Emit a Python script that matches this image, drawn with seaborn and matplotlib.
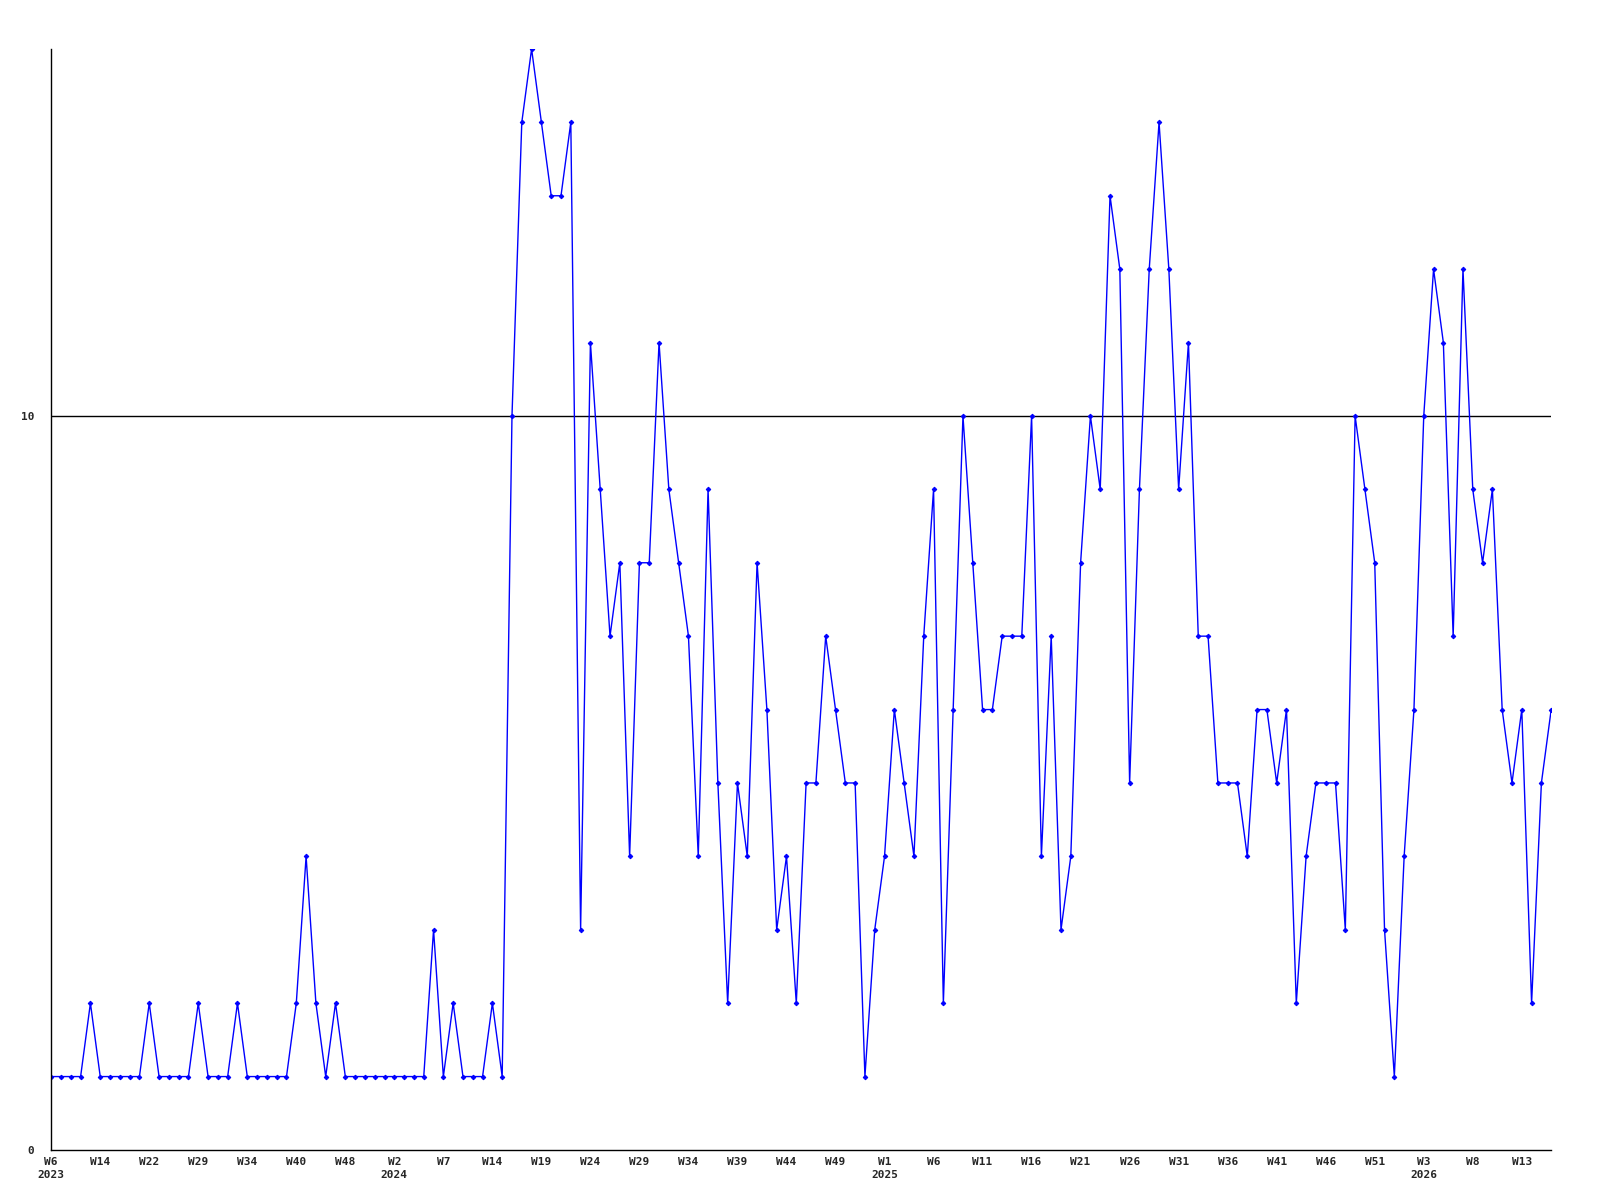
import matplotlib
matplotlib.use("Agg")
import matplotlib.pyplot as plt
import seaborn as sns
import pandas as pd
import numpy as np

# weekly values, one per point
values_2023 = [1, 1, 1, 1, 2, 1, 1, 1, 1, 1,
               2, 1, 1, 1, 1, 2, 1, 1, 1, 2,
               1, 1, 1, 1, 1, 2, 4, 2, 1, 2,
               1, 1, 1, 1, 1]
values_2024 = [1, 1, 1, 1, 3, 1, 2, 1, 1, 1, 2, 1,
               10, 14, 15, 14, 13, 13, 14, 3, 11, 9,
               7, 8, 4, 8, 8, 11, 9, 8, 7, 4,
               9, 5, 2, 5, 4, 8, 6, 3, 4, 2,
               5, 5, 7, 6, 5, 5, 1, 3]
values_2025 = [4, 6, 5, 4, 7, 9, 2, 6, 10, 8,
               6, 6, 7, 7, 7, 10, 4, 7, 3, 4,
               8, 10, 9, 13, 12, 5, 9, 12, 14, 12,
               9, 11, 7, 7, 5, 5, 5, 4, 6, 6,
               5, 6, 2, 4, 5, 5, 5, 3, 10, 9,
               8, 3, 1]
values_2026 = [4, 6, 10, 12, 11, 7, 12, 9, 8, 9, 6, 5, 6, 2, 5, 6]

values = values_2023 + values_2024 + values_2025 + values_2026

# tick labels, one every 5 points
tick_weeks = ["W6", "W14", "W22", "W29", "W34", "W40", "W48", "W2", "W7", "W14",
              "W19", "W24", "W29", "W34", "W39", "W44", "W49", "W1", "W6", "W11",
              "W16", "W21", "W26", "W31", "W36", "W41", "W46", "W51", "W3", "W8", "W13"]
tick_years = {0: "2023", 7: "2024", 17: "2025", 28: "2026"}
reference_level = 10

df = pd.DataFrame({"idx": np.arange(len(values)), "value": values})

sns.set_theme(style="white")
plt.rcParams["font.family"] = ["DejaVu Sans Mono"]

fig = plt.figure(figsize=(16, 12), dpi=100)
ax = fig.add_axes([0.032, 0.0417, 0.9375, 0.9175])

sns.lineplot(data=df, x="idx", y="value", ax=ax, color="#0000FF", linewidth=1.0,
             marker="D", markersize=2.3, markeredgecolor="#0000FF", markerfacecolor="#0000FF")

ax.axhline(reference_level, color="black", linewidth=1.0, zorder=1)

ax.set_xlim(0, len(values) - 1)
ax.set_ylim(0, 15)

ticks = [i * 5 for i in range(len(tick_weeks))]
labels = []
for k, w in enumerate(tick_weeks):
    if k in tick_years:
        labels.append(w + "\n" + tick_years[k])
    else:
        labels.append(w)
ax.set_xticks(ticks)
ax.set_xticklabels(labels, fontsize=8, fontweight="bold", linespacing=1.35)
ax.set_yticks([0, 10])
ax.set_yticklabels(["0", "10"], fontsize=8, fontweight="bold")
ax.tick_params(axis="x", length=0, pad=5)
ax.tick_params(axis="y", length=0, pad=12)

ax.set_xlabel("")
ax.set_ylabel("")
for s in ["top", "right"]:
    ax.spines[s].set_visible(False)
for s in ["left", "bottom"]:
    ax.spines[s].set_color("black")
    ax.spines[s].set_linewidth(1.0)
ax.grid(False)

fig.savefig("out.png", dpi=100, facecolor="white")
